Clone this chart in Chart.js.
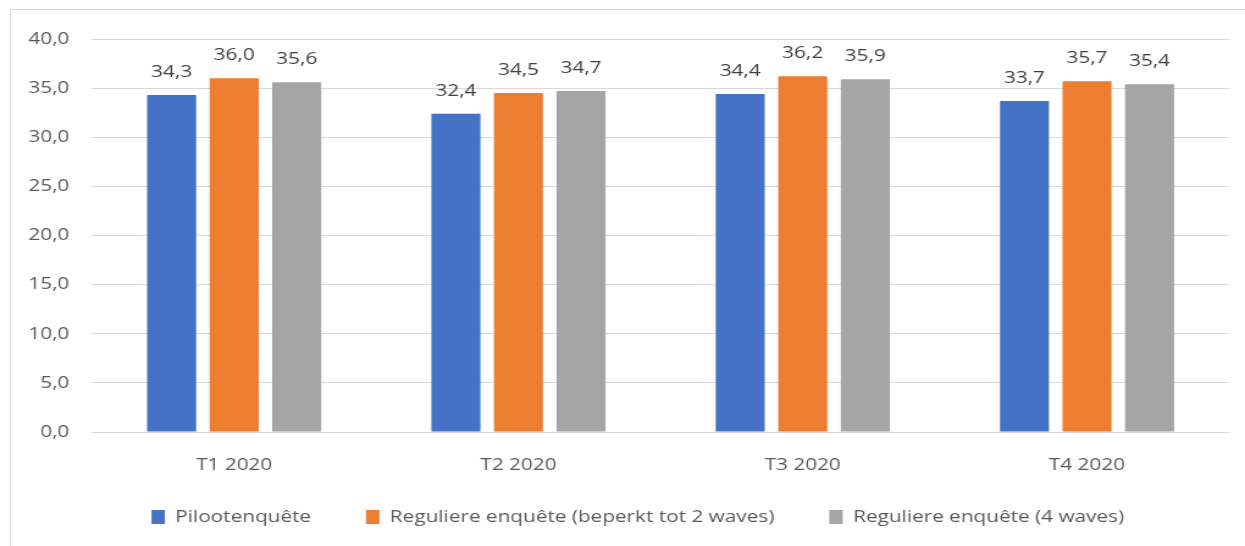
<!DOCTYPE html>
<html>
<head>
<meta charset="utf-8">
<script src="https://cdn.jsdelivr.net/npm/chart.js@4"></script>
<style>
    html, body { margin: 0; padding: 0; background: #fff; overflow: hidden; }
    /* the source chart is stretched sideways, so the whole canvas is widened a bit */
    #wrap { position: absolute; left: 0; top: 0; width: 1020px; height: 546px; transform: scaleX(1.2206); transform-origin: 0 0; }
    #frame { position: absolute; left: 10px; top: 9px; width: 1300px; height: 600px; border: 1px solid #d9d9d9; pointer-events: none; }
</style>
</head>
<body>
<div id="frame"></div>
<div id="wrap"><canvas id="chart"></canvas></div>
<script>
// Data
const categories = ['T1 2020', 'T2 2020', 'T3 2020', 'T4 2020'];
const seriesNames = ['Pilootenquête', 'Reguliere enquête (beperkt tot 2 waves)', 'Reguliere enquête (4 waves)'];
const pilotValues = [34.3, 32.4, 34.4, 33.7];
const regular2Values = [36.0, 34.5, 36.2, 35.7];
const regular4Values = [35.6, 34.7, 35.9, 35.4];
const yTicks = [0, 5, 10, 15, 20, 25, 30, 35, 40];
const seriesColors = ['#4472C4', '#ED7D31', '#A5A5A5'];

const FONT = '"Open Sans", "DejaVu Sans", sans-serif';
const fmt = v => v.toFixed(1).replace('.', ',');

// Value labels above each bar
const barLabels = {
    id: 'barLabels',
    afterDatasetsDraw(chart) {
        const ctx = chart.ctx;
        ctx.save();
        ctx.font = '17px ' + FONT;
        ctx.fillStyle = '#404040';
        ctx.textAlign = 'center';
        ctx.textBaseline = 'alphabetic';
        chart.data.datasets.forEach((ds, i) => {
            chart.getDatasetMeta(i).data.forEach((bar, j) => {
                ctx.fillText(fmt(ds.data[j]), bar.x, bar.y - 18);
            });
        });
        ctx.restore();
    }
};

// Move the legend to where the reference has it (its box is also its clip area)
const legendPlace = {
    id: 'legendPlace',
    afterLayout(chart) {
        const lg = chart.legend;
        lg.left += 19;
        lg.right += 19;
        lg.top = 463.5;
        lg.bottom = 546;
    }
};

const allValues = [pilotValues, regular2Values, regular4Values];

new Chart(document.getElementById('chart'), {
    type: 'bar',
    data: {
        labels: categories,
        datasets: seriesNames.map((name, i) => ({
            label: name,
            data: allValues[i],
            backgroundColor: seriesColors[i],
            borderWidth: 0,
            categoryPercentage: 0.66,
            barPercentage: 0.784
        }))
    },
    options: {
        responsive: true,
        maintainAspectRatio: false,
        animation: false,
        layout: { padding: { left: 0, right: 13, top: 39, bottom: 24 } },
        scales: {
            x: {
                grid: { display: false },
                border: { display: false },
                ticks: { color: '#595959', font: { family: FONT, size: 17 }, padding: 15 },
                afterFit: s => { s.height = 60; }
            },
            y: {
                min: 0,
                max: 40,
                afterBuildTicks: s => { s.ticks = yTicks.map(v => ({ value: v })); },
                grid: { color: '#d9d9d9', lineWidth: 1, drawTicks: false },
                border: { display: false },
                ticks: {
                    color: '#595959',
                    font: { family: FONT, size: 17 },
                    padding: 18.6,
                    callback: v => fmt(v)
                },
                afterFit: s => { s.width = 75.4; }
            }
        },
        plugins: {
            legend: {
                position: 'bottom',
                maxHeight: 30,
                labels: {
                    color: '#595959',
                    font: { family: FONT, size: 17 },
                    boxWidth: 11,
                    boxHeight: 14,
                    padding: 45
                }
            },
            tooltip: { enabled: false }
        }
    },
    plugins: [barLabels, legendPlace]
});
</script>
</body>
</html>
